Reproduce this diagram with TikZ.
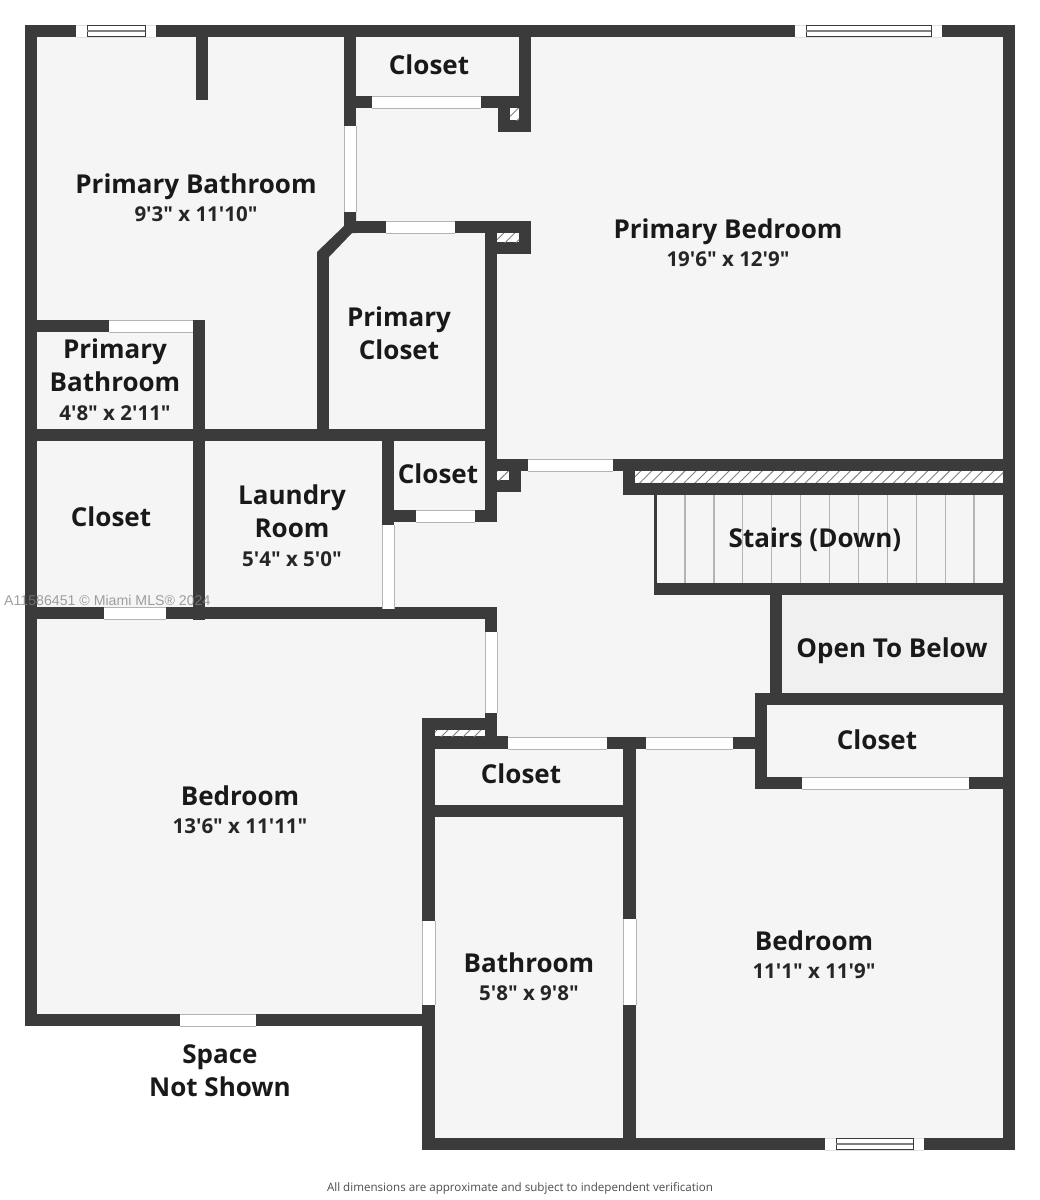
\documentclass[tikz,border=0pt]{standalone}
\usepackage{xcolor}
\usepackage{fontspec}
\newfontfamily\planfont{Open Sans}
\newfontfamily\markfont{Liberation Sans}
\usepackage{tikz}
\usetikzlibrary{positioning,patterns.meta}
\definecolor{wallgrey}{HTML}{3B3B3B}
\definecolor{roomgrey}{HTML}{F5F5F5}
\definecolor{voidgrey}{HTML}{F0F0F0}
\definecolor{edgegrey}{HTML}{B4B4B4}

\begin{document}
\begin{tikzpicture}[
  x=1pt, y=-1pt,
  node distance=9pt,
  wall/.style={fill=wallgrey},
  opening/.style={fill=white},
  edgeline/.style={draw=edgegrey, line width=.9pt},
  glassline/.style={draw=wallgrey, line width=1pt},
  hatchbox/.style={fill=white, postaction={pattern={Lines[angle=45,distance=7.8pt,line width=.9pt]}, pattern color=gray}},
  tread/.style={draw=edgegrey, line width=1.2pt},
  roomname/.style={anchor=base, inner sep=0pt, text height=18pt, text depth=6pt, font=\planfont\fontsize{26}{30}\selectfont\bfseries, text=black!90},
  roomsize/.style={inner sep=0pt, text height=13.5pt, text depth=5pt, font=\planfont\fontsize{20.5}{24}\selectfont\bfseries, text=black!85}
]
\useasboundingbox (0,0) rectangle (1040,1200);

% Floor
\fill[roomgrey] (25,25) -- (1015,25) -- (1015,1150) -- (422,1150) -- (422,1026) -- (25,1026) -- cycle;
\fill[voidgrey] (782,595) rectangle (1003,693);

% Stairs
\foreach \n in {0,...,10}
  \draw[tread] ({685+28.9*\n},495) -- ({685+28.9*\n},583);

% Walls
\foreach \xa/\ya/\xb/\yb in {25/25/1015/37, 25/25/37/1026, 1003/25/1015/1150, 422/1138/1015/1150,
    25/1014/435/1026, 422/718/435/1150, 196/37/208/100, 344/25/356/126,
    356/96/531/108, 519/25/531/132, 498/108/531/132, 344/221/531/233, 485/221/531/254,
    485/233/497/522, 317/252/329/441, 25/320/205/332, 193/320/205/620,
    25/429/497/441, 382/441/394/525, 382/510/497/522, 497/459/521/492,
    497/459/1015/471, 623/459/635/495, 623/483/1015/495, 654/495/656.5/583,
    654/583/1015/595, 770/595/782/693, 755/693/1015/705, 755/693/767/789,
    755/777/1015/789, 25/607/497/619, 485/607/497/632, 485/713/497/749,
    422/718/497/730, 422/736/508/748, 422/737/755/749, 623/737/636/1150,
    422/805/636/817}
  \fill[wall] (\xa,\ya) rectangle (\xb,\yb);
\fill[wall] (344,226) -- (317,252) -- (329,257) -- (352,233) -- (356,233) -- (356,212) -- (344,212) -- cycle;

% Recesses
\foreach \xa/\ya/\xb/\yb in {510/108/519/120, 497/233/519/242, 497/471/509/480, 635/471/1003/482, 435/730/485/736}
  \path[hatchbox] (\xa,\ya) rectangle (\xb,\yb);

% Openings along x
\foreach \xa/\xb/\ya/\yb in {372/481/96/108, 386/455/221/233, 109/193/320/332, 104/166/607/619,
    416/475/510/522, 528/613/459/471, 508/607/737/749, 646/733/737/749, 802/969/777/789, 180/256/1014/1026} {
  \fill[opening] (\xa,\ya) rectangle (\xb,\yb);
  \draw[edgeline] (\xa,\ya) -- (\xb,\ya) (\xa,\yb) -- (\xb,\yb);
}
% Openings along y
\foreach \xa/\xb/\ya/\yb in {344/356/126/212, 382/394/525/609, 485/497/632/713, 422/435/921/1005, 623/636/919/1005} {
  \fill[opening] (\xa,\ya) rectangle (\xb,\yb);
  \draw[edgeline] (\xa,\ya) -- (\xa,\yb) (\xb,\ya) -- (\xb,\yb);
}
% Windows
\foreach \xa/\xb/\xc/\xd/\ya/\yb in {76/156/87/145/25/37, 795/942/806/931/25/37, 825/924/836/913/1138/1150} {
  \fill[opening] (\xa,\ya) rectangle (\xb,\yb);
  \draw[edgeline, draw=black!12] (\xa,\ya) -- (\xb,\ya) (\xa,\yb) -- (\xb,\yb);
  \draw[glassline] (\xc,\ya+.5) rectangle (\xd,\yb-.5);
  \draw[glassline, draw=gray, line width=1.5pt] (\xc,{(\ya+\yb)/2}) -- (\xd,{(\ya+\yb)/2});
}

% Rooms
\node (primbath) [roomname] at (196,193) {Primary Bathroom};
\node (primbathsize) [roomsize, below=of primbath] {9'3" x 11'10"};
\node (topcloset) [roomname] at (429,74) {Closet};
\node (primbed) [roomname] at (728,238) {Primary Bedroom};
\node (primbedsize) [roomsize, below=of primbed] {19'6" x 12'9"};
\node (primclosetA) [roomname] at (399,326) {Primary};
\node (primclosetB) [roomname, below=of primclosetA] {Closet};
\node (smallbathA) [roomname] at (115,358) {Primary};
\node (smallbathB) [roomname, below=of smallbathA] {Bathroom};
\node (smallbathsize) [roomsize, below=of smallbathB] {4'8" x 2'11"};
\node (leftcloset) [roomname] at (111,526) {Closet};
\node (laundryA) [roomname] at (292,504) {Laundry};
\node (laundryB) [roomname, below=of laundryA] {Room};
\node (laundrysize) [roomsize, below=of laundryB] {5'4" x 5'0"};
\node (midcloset) [roomname] at (438,483) {Closet};
\node (stairs) [roomname] at (815,547) {Stairs (Down)};
\node (openbelow) [roomname] at (892,657) {Open To Below};
\node (rightcloset) [roomname] at (877,749) {Closet};
\node (lowcloset) [roomname] at (521,783) {Closet};
\node (bedleft) [roomname] at (240,805) {Bedroom};
\node (bedleftsize) [roomsize, below=of bedleft] {13'6" x 11'11"};
\node (bathlow) [roomname] at (529,972) {Bathroom};
\node (bathlowsize) [roomsize, below=of bathlow] {5'8" x 9'8"};
\node (bedright) [roomname] at (814,950) {Bedroom};
\node (bedrightsize) [roomsize, below=of bedright] {11'1" x 11'9"};
\node (spaceA) [roomname] at (220,1063) {Space};
\node (spaceB) [roomname, below=of spaceA] {Not Shown};

% Notes
\node (footnote) [inner sep=0pt, text=black!70, font=\planfont\fontsize{11.6}{14}\selectfont] at (520,1188) {All dimensions are approximate and subject to independent verification};
\node (listing) [anchor=base west, inner sep=0pt, text=gray, opacity=.75, font=\markfont\fontsize{14.15}{16}\selectfont] at (4,605) {A11586451 © Miami MLS® 2024};
\end{tikzpicture}
\end{document}
